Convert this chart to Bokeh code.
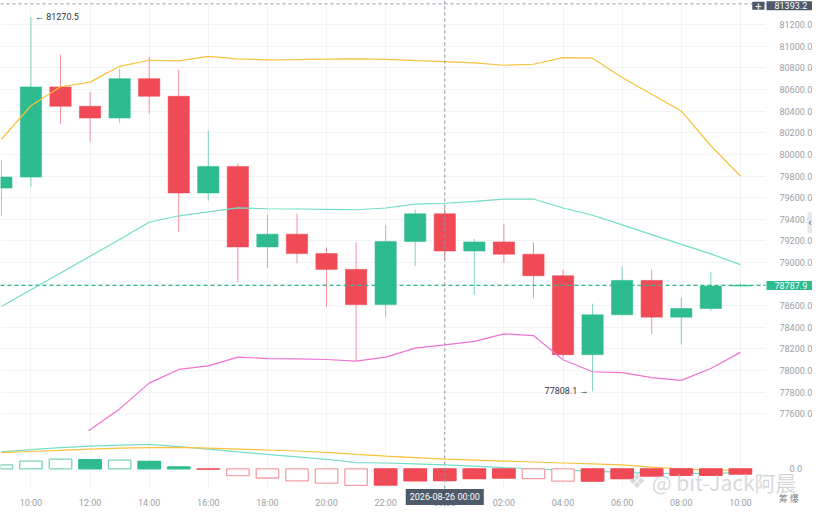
from bokeh.plotting import figure
from bokeh.models import Range1d, FixedTicker, NumeralTickFormatter, Span, Label, ColumnDataSource
from bokeh.layouts import column
from bokeh.embed import file_html
from bokeh.resources import INLINE

# ---------------- data ----------------
times = ["09:00", "10:00", "11:00", "12:00", "13:00", "14:00", "15:00", "16:00", "17:00",
         "18:00", "19:00", "20:00", "21:00", "22:00", "23:00", "00:00", "01:00", "02:00",
         "03:00", "04:00", "05:00", "06:00", "07:00", "08:00", "09:00", "10:00"]
opens = [79688, 79790, 80624, 80445, 80337, 80701, 80538, 79643, 79889, 79144, 79262, 79082, 78936,
         78610, 79194, 79450, 79106, 79190, 79076, 78877, 78147, 78516, 78834, 78494, 78574, 78782]
highs = [79945, 81270.5, 80922, 80579, 80790, 80902, 80781, 80223, 79916, 79444, 79450, 79139, 79184,
         79348, 79488, 79527, 79217, 79357, 79187, 78933, 78619, 78966, 78936, 78673, 78915, 78810]
lows = [79428, 79697, 80280, 80118, 80289, 80376, 79280, 79572, 78816, 78948, 78993, 78590, 78088,
        78494, 78966, 79025, 78700, 78998, 78667, 78115, 77808.1, 78510, 78339, 78240, 78550, 78780]
closes = [79790, 80624, 80445, 80337, 80701, 80538, 79643, 79889, 79144, 79262, 79082, 78936, 78610,
          79194, 79450, 79106, 79190, 79076, 78877, 78147, 78516, 78834, 78494, 78574, 78782, 78787.9]

boll_upper = [80140, 80450, 80626, 80669, 80815, 80871, 80866, 80907, 80884, 80875, 80877, 80882, 80884,
              80879, 80868, 80859, 80846, 80825, 80834, 80896, 80890, 80711, 80557, 80402, 80080, 79800]
boll_mid = [78592, 78747, 78903, 79058, 79213, 79372, 79432, 79468, 79506, 79497, 79495, 79491, 79488,
            79504, 79539, 79548, 79566, 79587, 79587, 79504, 79437, 79348, 79258, 79168, 79079, 78980]
boll_lower = [77044, 77044, 77180, 77452, 77645, 77884, 78010, 78043, 78124, 78111, 78108, 78102, 78088,
              78124, 78207, 78237, 78270, 78339, 78324, 78100, 77989, 77980, 77935, 77909, 78019, 78168]

macd_dif = [173, 198, 218, 233, 243, 250, 228, 203, 173, 148, 123, 98, 63,
            60, 50, 40, 28, 13, 0, -14, -24, -37, -47, -50, -45, -40]
macd_dea = [166, 178, 190, 203, 213, 218, 220, 213, 203, 193, 183, 168, 148,
            130, 115, 100, 90, 80, 70, 60, 50, 40, 18, -2, -10, -17]
macd_hist = [40, 80, 100, 93, 90, 76, 20, -4, -70, -94, -124, -147, -170,
             -167, -124, -120, -100, -94, -100, -127, -127, -100, -74, -67, -67, -54]
hist_hollow = [True, True, True, False, True, False, False, False, True, True, True, True, True,
               False, False, False, False, False, True, True, False, False, False, False, False, False]

price_ticks = [77600, 77800, 78000, 78200, 78400, 78600, 78800, 79000, 79200, 79400,
               79600, 79800, 80000, 80200, 80400, 80600, 80800, 81000, 81200]
time_tick_idx = [1, 3, 5, 7, 9, 11, 13, 15, 17, 19, 21, 23, 25]
last_price = 78787.9
cross_price = 81393.2
cross_idx = 15
cross_label = "2026-08-26 00:00"
watermark = "@ bit-Jack阿晨"
corner_text = "筹 爆"

# ---------------- styles ----------------
UP = "#2DBB8F"
DOWN = "#EF4A56"
UP_LIGHT = "#7ED3B7"
DOWN_LIGHT = "#F4A0A7"
C_UPPER = "#F9C23C"
C_MID = "#74DDC7"
C_LOWER = "#EE72D4"
GRID = "#F1F3F5"
AXIS_TXT = "#9A9FA7"
DARK = "#4E5969"
CROSS = "#8E97A4"
FONT = "Roboto"

W = 812
X0, X_FRAME, X1 = -0.03, 25.85, 27.44       # plot area ends at X_FRAME, axis strip beyond
Y_MAIN = (77436, 81424)
Y_MACD = (-407, 383)
MACD_AXIS_Y = -197

idx = list(range(len(times)))
XR = Range1d(X0, X1)

col = [UP if c >= o else DOWN for o, c in zip(opens, closes)]
src = ColumnDataSource(dict(
    x=idx, o=opens, h=highs, l=lows, c=closes,
    top=[max(o, c) for o, c in zip(opens, closes)],
    bot=[min(o, c) for o, c in zip(opens, closes)],
    col=col, up=boll_upper, mid=boll_mid, low=boll_lower,
))


def style_axis(ax, standoff):
    ax.axis_line_color = None
    ax.major_tick_line_color = None
    ax.minor_tick_line_color = None
    ax.major_label_standoff = standoff
    ax.major_label_text_font_size = "9px"
    ax.major_label_text_color = AXIS_TXT
    ax.major_label_text_font = FONT


# ---------------- main panel ----------------
p = figure(width=W, height=431, x_range=XR, y_range=Range1d(*Y_MAIN),
           output_backend="svg", toolbar_location=None, x_axis_location=None,
           y_axis_location="right", min_border_left=0, min_border_right=0,
           min_border_top=0, min_border_bottom=0)
p.outline_line_color = None
p.background_fill_color = "white"
p.xgrid.ticker = FixedTicker(ticks=time_tick_idx)
p.xgrid.grid_line_color = GRID
p.ygrid.grid_line_color = GRID
p.yaxis.ticker = FixedTicker(ticks=price_ticks)
p.yaxis.formatter = NumeralTickFormatter(format="0.0")
p.yaxis.fixed_location = X_FRAME
style_axis(p.yaxis, 8)

# white strip behind the price axis
p.quad(left=X_FRAME, right=X1, bottom=Y_MAIN[0], top=Y_MAIN[1], fill_color="white", line_color=None)

p.segment(x0="x", y0="l", x1="x", y1="h", source=src, line_color="col", line_alpha=0.6, line_width=1)
p.vbar(x="x", width=0.72, top="top", bottom="bot", source=src, fill_color="col",
       line_color="col", line_alpha=0.55, line_width=1)

p.line("x", "up", source=src, line_color=C_UPPER, line_width=1.2)
p.line("x", "mid", source=src, line_color=C_MID, line_width=1.2)
p.line("x", "low", source=src, line_color=C_LOWER, line_width=1.2)

p.segment(x0=[X0], y0=[last_price], x1=[X_FRAME], y1=[last_price], line_color=UP,
          line_dash="4 3", line_width=1.2)
p.segment(x0=[X0], y0=[cross_price], x1=[X_FRAME], y1=[cross_price], line_color=CROSS,
          line_dash="3 3", line_width=1)
p.add_layout(Span(location=cross_idx, dimension="height", line_color=CROSS, line_dash="3 3", line_width=1))

hi_i = highs.index(max(highs))
lo_i = lows.index(min(lows))
p.add_layout(Label(x=hi_i, y=highs[hi_i], text="\u2190 %.1f" % highs[hi_i], x_offset=4,
                   text_align="left", text_baseline="middle", text_font_size="9px",
                   text_color="#333333", text_font=FONT))
p.add_layout(Label(x=lo_i, y=lows[lo_i], text="%.1f \u2192" % lows[lo_i], x_offset=-4,
                   text_align="right", text_baseline="middle", text_font_size="9px",
                   text_color="#333333", text_font=FONT))

p.add_layout(Label(x=X_FRAME, y=last_price, text="%.1f" % last_price, x_offset=1,
                   text_align="left", text_baseline="middle", text_font_size="9px",
                   text_color="white", text_font=FONT, background_fill_color=UP,
                   padding=(8, 1)))
p.add_layout(Label(x=X_FRAME, y=cross_price, text="%.1f" % cross_price, x_offset=1, y_offset=-2,
                   text_align="left", text_baseline="middle", text_font_size="9px",
                   text_color="white", text_font=FONT, background_fill_color=DARK,
                   padding=(8, 1)))
p.add_layout(Label(x=X_FRAME, y=cross_price, text="+", x_offset=-1, y_offset=-2,
                   text_align="right", text_baseline="middle", text_font_size="11px",
                   text_color="white", text_font=FONT, background_fill_color=DARK,
                   padding=(3, 0)))
p.add_layout(Label(x=X1, y=79367, text="\u2039", text_align="right", text_baseline="middle",
                   text_font_size="10px", text_color="#555B63", text_font=FONT,
                   background_fill_color="#E6E8EB", padding=(1, 5)))

# ---------------- MACD panel ----------------
hsrc = ColumnDataSource(dict(
    x=idx, top=[max(h, 0) for h in macd_hist], bot=[min(h, 0) for h in macd_hist],
    fill=["white" if hol else (UP if h >= 0 else DOWN) for h, hol in zip(macd_hist, hist_hollow)],
    line=[(UP_LIGHT if h >= 0 else DOWN_LIGHT) if hol else (UP if h >= 0 else DOWN)
          for h, hol in zip(macd_hist, hist_hollow)],
    dif=macd_dif, dea=macd_dea,
))

q = figure(width=W, height=77, x_range=XR, y_range=Range1d(*Y_MACD),
           output_backend="svg", toolbar_location=None, x_axis_location="below",
           y_axis_location="right", min_border_left=0, min_border_right=0,
           min_border_top=0, min_border_bottom=0)
q.outline_line_color = None
q.xgrid.grid_line_color = GRID
q.ygrid.grid_line_color = None
q.xgrid.ticker = FixedTicker(ticks=time_tick_idx)
q.xaxis.ticker = FixedTicker(ticks=time_tick_idx)
q.xaxis.major_label_overrides = {i: times[i] for i in time_tick_idx}
q.xaxis.fixed_location = MACD_AXIS_Y
style_axis(q.xaxis, 4)
q.yaxis.ticker = FixedTicker(ticks=[0])
q.yaxis.formatter = NumeralTickFormatter(format="0.0")
q.yaxis.fixed_location = X_FRAME
style_axis(q.yaxis, 18)

# white strips behind the axes
q.quad(left=X0, right=X1, bottom=Y_MACD[0], top=MACD_AXIS_Y, fill_color="white", line_color=None)
q.quad(left=X_FRAME, right=X1, bottom=Y_MACD[0], top=Y_MACD[1], fill_color="white", line_color=None)

q.line("x", "dif", source=hsrc, line_color=C_MID, line_width=1.2)
q.line("x", "dea", source=hsrc, line_color=C_UPPER, line_width=1.2)
q.vbar(x="x", width=0.76, top="top", bottom="bot", source=hsrc, fill_color="fill",
       line_color="line", line_width=1.3)
q.add_layout(Span(location=cross_idx, dimension="height", line_color=CROSS, line_dash="3 3", line_width=1))

q.add_layout(Label(x=cross_idx, y=-290, text=cross_label, text_align="center",
                   text_baseline="middle", text_font_size="9px", text_color="white",
                   text_font=FONT, background_fill_color=DARK, padding=(4, 3)))
q.add_layout(Label(x=21.2, y=-128, text="\u2756", text_align="left",
                   text_baseline="middle", text_font_size="20px", text_color="#B9BDC3",
                   text_alpha=0.55, text_font="DejaVu Sans"))
q.add_layout(Label(x=22.0, y=-134, text=watermark, text_align="left",
                   text_baseline="middle", text_font_size="21px", text_color="#B9BDC3",
                   text_alpha=0.6, text_font="Noto Sans CJK SC"))
q.add_layout(Label(x=26.3, y=-300, text=corner_text, text_align="left",
                   text_baseline="middle", text_font_size="9px", text_color="#5F6670",
                   text_alpha=0.85, text_font="Noto Sans CJK SC"))

layout = column(p, q, spacing=0)
open("out.html", "w").write(file_html(layout, INLINE))
